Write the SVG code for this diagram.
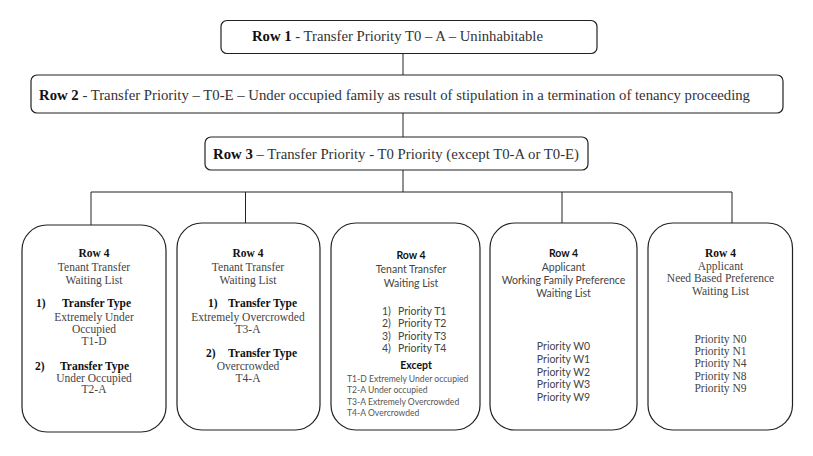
<svg xmlns="http://www.w3.org/2000/svg" width="813" height="456" viewBox="0 0 813 456">
<style>
.bx{fill:#fff;stroke:#222;stroke-width:1.2}
.ln{stroke:#222;stroke-width:1;fill:none}
.hd{font-family:"Liberation Serif","Times New Roman",serif;font-size:14px;fill:#333}
.se{font-family:"Liberation Serif","Times New Roman",serif;font-size:11.5px;fill:#444;text-anchor:middle}
.sa{font-family:Lato,"Liberation Sans",sans-serif;font-size:10.5px;fill:#444;text-anchor:middle}
.sm{font-family:Lato,"Liberation Sans",sans-serif;font-size:8.6px;fill:#555}
.b{font-weight:bold;fill:#111}
.st{text-anchor:start}
</style>
<rect width="813" height="456" fill="#fff"/>
<g id="connectors">
<path class="ln" d="M403,53V75M403,113V137M403,170V192M91,192H732M91,192V225M245.5,192V223M562,192V223M732,192V223"/>
</g>
<g id="row1">
<rect class="bx" x="221" y="20.5" width="376" height="33" rx="6"/>
<text class="hd" x="252" y="41" textLength="291" lengthAdjust="spacingAndGlyphs"><tspan class="b">Row 1</tspan> - Transfer Priority T0 – A – Uninhabitable</text>
</g>
<g id="row2">
<rect class="bx" x="31" y="75" width="752" height="38" rx="6"/>
<text class="hd" x="39" y="99.5" textLength="711" lengthAdjust="spacingAndGlyphs"><tspan class="b">Row 2</tspan> - Transfer Priority – T0-E – Under occupied family as result of stipulation in a termination of tenancy proceeding</text>
</g>
<g id="row3">
<rect class="bx" x="205" y="137" width="383" height="33" rx="6"/>
<text class="hd" x="213" y="159" textLength="366" lengthAdjust="spacingAndGlyphs"><tspan class="b">Row 3</tspan> – Transfer Priority - T0 Priority (except T0-A or T0-E)</text>
</g>
<g id="box1">
<rect class="bx" x="22" y="225" width="144" height="207" rx="25"/>
<text class="se b" x="94" y="257">Row 4</text>
<text class="se" x="94" y="270.5">Tenant Transfer</text>
<text class="se" x="94" y="284">Waiting List</text>
<text class="se b st" x="36" y="307">1)</text>
<text class="se b st" x="62" y="307">Transfer Type</text>
<text class="se" x="94" y="320.5">Extremely Under</text>
<text class="se" x="94" y="332.5">Occupied</text>
<text class="se" x="94" y="344.5">T1-D</text>
<text class="se b st" x="35" y="369.5">2)</text>
<text class="se b st" x="60" y="369.5">Transfer Type</text>
<text class="se" x="94" y="381.5">Under Occupied</text>
<text class="se" x="94" y="393">T2-A</text>
</g>
<g id="box2">
<rect class="bx" x="177" y="223" width="143" height="207" rx="25"/>
<text class="se b" x="248" y="257">Row 4</text>
<text class="se" x="248" y="270.5">Tenant Transfer</text>
<text class="se" x="248" y="284">Waiting List</text>
<text class="se b st" x="208" y="307">1)</text>
<text class="se b st" x="228" y="307">Transfer Type</text>
<text class="se" x="248" y="320.5">Extremely Overcrowded</text>
<text class="se" x="248" y="332.5">T3-A</text>
<text class="se b st" x="206" y="356.5">2)</text>
<text class="se b st" x="228" y="356.5">Transfer Type</text>
<text class="se" x="248" y="370">Overcrowded</text>
<text class="se" x="248" y="381.5">T4-A</text>
</g>
<g id="box3">
<rect class="bx" x="331" y="223" width="149" height="207" rx="25"/>
<text class="sa b" x="411" y="259">Row 4</text>
<text class="sa" x="411" y="273">Tenant Transfer</text>
<text class="sa" x="411" y="287">Waiting List</text>
<text class="sa st" x="382" y="315">1)</text>
<text class="sa st" x="398" y="315">Priority T1</text>
<text class="sa st" x="382" y="327">2)</text>
<text class="sa st" x="398" y="327">Priority T2</text>
<text class="sa st" x="382" y="339.5">3)</text>
<text class="sa st" x="398" y="339.5">Priority T3</text>
<text class="sa st" x="382" y="352">4)</text>
<text class="sa st" x="398" y="352">Priority T4</text>
<text class="sa b" x="416" y="369">Except</text>
<text class="sm" x="347" y="381.5">T1-D Extremely Under occupied</text>
<text class="sm" x="347" y="393">T2-A Under occupied</text>
<text class="sm" x="347" y="404.5">T3-A Extremely Overcrowded</text>
<text class="sm" x="347" y="416">T4-A Overcrowded</text>
</g>
<g id="box4">
<rect class="bx" x="490" y="223" width="147" height="207" rx="25"/>
<text class="sa b" x="563.5" y="257">Row 4</text>
<text class="sa" x="563.5" y="270.5">Applicant</text>
<text class="sa" x="563.5" y="284">Working Family Preference</text>
<text class="sa" x="563.5" y="296.5">Waiting List</text>
<text class="sa" x="563.5" y="350">Priority W0</text>
<text class="sa" x="563.5" y="362.5">Priority W1</text>
<text class="sa" x="563.5" y="375.5">Priority W2</text>
<text class="sa" x="563.5" y="388">Priority W3</text>
<text class="sa" x="563.5" y="400.5">Priority W9</text>
</g>
<g id="box5">
<rect class="bx" x="648" y="223" width="144.5" height="207" rx="25"/>
<text class="se b" x="720.5" y="257">Row 4</text>
<text class="se" x="720.5" y="269.5">Applicant</text>
<text class="se" x="720.5" y="282">Need Based Preference</text>
<text class="se" x="720.5" y="294.5">Waiting List</text>
<text class="se" x="720.5" y="343">Priority N0</text>
<text class="se" x="720.5" y="355">Priority N1</text>
<text class="se" x="720.5" y="367">Priority N4</text>
<text class="se" x="720.5" y="379.5">Priority N8</text>
<text class="se" x="720.5" y="391.5">Priority N9</text>
</g>
</svg>
